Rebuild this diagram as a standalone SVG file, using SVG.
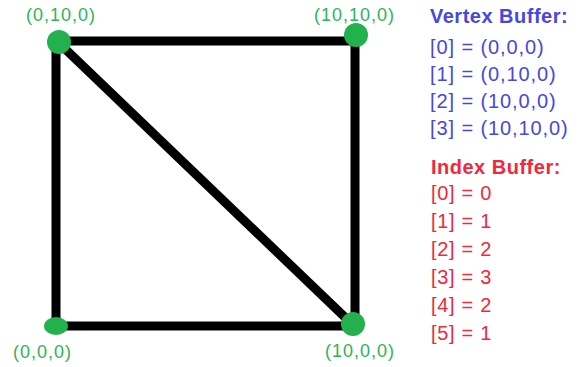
<svg xmlns="http://www.w3.org/2000/svg" width="587" height="367" viewBox="0 0 587 367">
<style>
.edge{stroke:#000;stroke-width:9;fill:none;stroke-linecap:butt}
.dot{fill:#22B14C}
.coord{font-family:"Liberation Sans",Arial,sans-serif;font-size:18px;letter-spacing:1px;fill:#2DB45A}
.vb{font-family:"Liberation Sans",Arial,sans-serif;font-size:20px;letter-spacing:0.9px;fill:#4848DC}
.ib{font-family:"Liberation Sans",Arial,sans-serif;font-size:20px;letter-spacing:0.7px;fill:#F2283C}
.hd{font-weight:bold;letter-spacing:0.5px}
</style>
<rect width="587" height="367" fill="#fff"/>
<g id="connectors">
<line class="edge" x1="56" y1="41" x2="360" y2="41"/>
<line class="edge" x1="355" y1="37" x2="355" y2="330"/>
<line class="edge" x1="56" y1="41" x2="56" y2="330"/>
<line class="edge" x1="51" y1="326" x2="355" y2="326"/>
<line class="edge" x1="60" y1="44" x2="352" y2="324"/>
</g>
<g id="v1"><circle class="dot" cx="59" cy="42" r="12"/><text class="coord" x="26" y="21">(0,10,0)</text></g>
<g id="v3"><circle class="dot" cx="356" cy="35" r="12"/><text class="coord" x="314" y="21">(10,10,0)</text></g>
<g id="v0"><ellipse class="dot" cx="56" cy="326" rx="12" ry="9"/><text class="coord" x="13" y="358">(0,0,0)</text></g>
<g id="v2"><circle class="dot" cx="353" cy="324" r="12"/><text class="coord" x="325" y="357">(10,0,0)</text></g>
<g id="vertex-buffer">
<text class="vb hd" x="430" y="23">Vertex Buffer:</text>
<text class="vb" x="430" y="54">[0] = (0,0,0)</text>
<text class="vb" x="430" y="81">[1] = (0,10,0)</text>
<text class="vb" x="430" y="108">[2] = (10,0,0)</text>
<text class="vb" x="430" y="135">[3] = (10,10,0)</text>
</g>
<g id="index-buffer">
<text class="ib hd" x="431" y="174">Index Buffer:</text>
<text class="ib" x="431" y="200">[0] = 0</text>
<text class="ib" x="431" y="228">[1] = 1</text>
<text class="ib" x="431" y="256">[2] = 2</text>
<text class="ib" x="431" y="284">[3] = 3</text>
<text class="ib" x="431" y="312">[4] = 2</text>
<text class="ib" x="431" y="340">[5] = 1</text>
</g>
</svg>
